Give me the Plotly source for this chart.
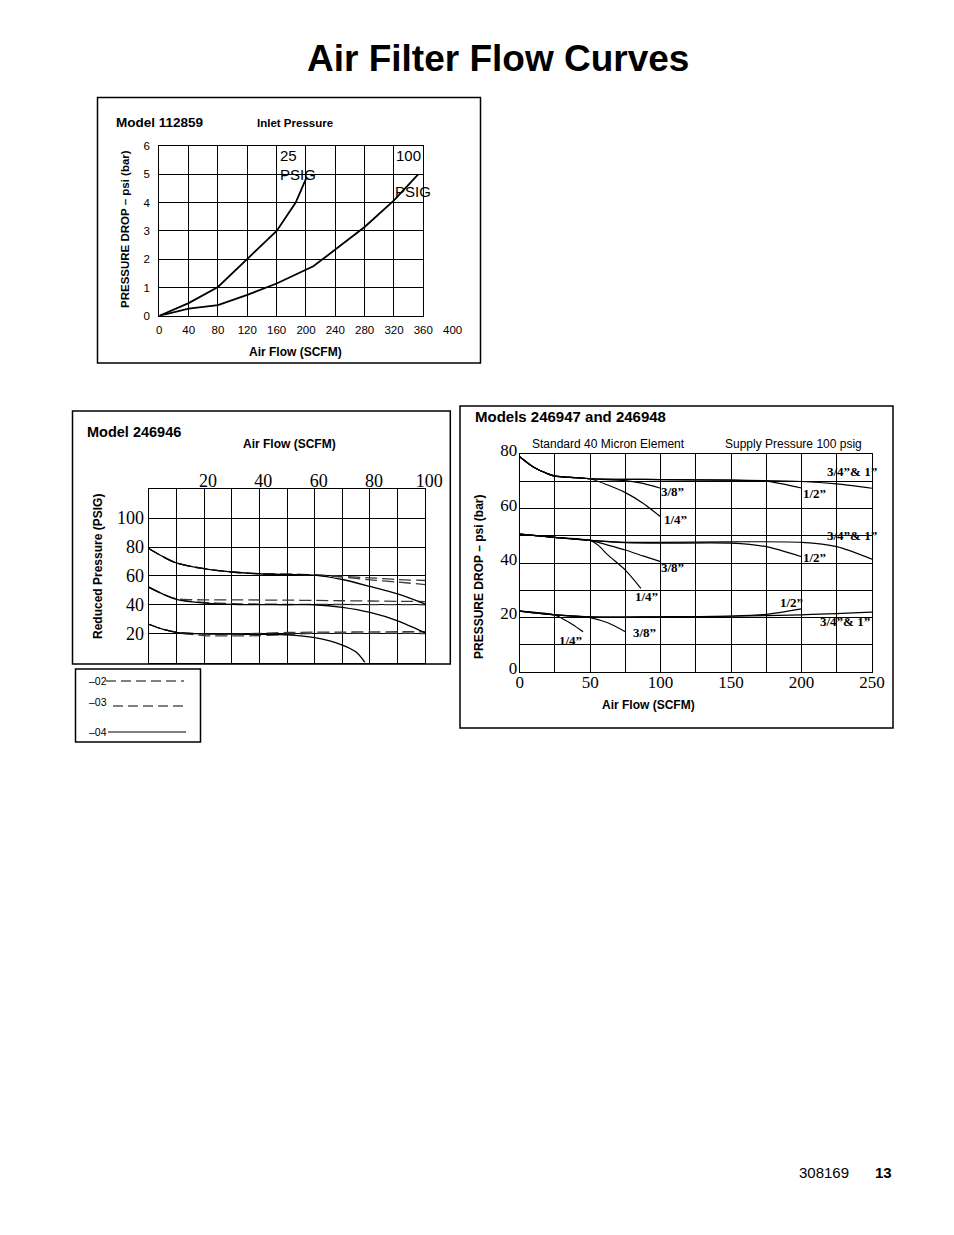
import plotly.graph_objects as go

W, H = 954, 1235
SANS = "Liberation Sans, Arial, Helvetica, sans-serif"
SERIF = "Liberation Serif, Times New Roman, serif"

# ---------------- Model 112859 ----------------
m1_flow_25 = [0, 40, 80, 120, 160, 186, 201]
m1_drop_25 = [0, 0.45, 1.02, 2.0, 3.0, 4.0, 4.9]
m1_flow_100 = [0, 40, 80, 120, 160, 210, 240, 280, 320, 353]
m1_drop_100 = [0, 0.25, 0.38, 0.74, 1.14, 1.75, 2.34, 3.14, 4.08, 5.0]
m1_x_labels = [0, 40, 80, 120, 160, 200, 240, 280, 320, 360, 400]
m1_y_labels = [0, 1, 2, 3, 4, 5, 6]

# ---------------- Model 246946 ----------------
m2_flow = [0, 5, 10, 20, 30, 40, 50, 60, 70, 80, 90, 100]
m2_high_02 = [79.0, 73.5, 69.0, 65.0, 62.7, 61.5, 61.2, 60.8, 59.6, 58.7, 57.5, 56.8]
m2_high_03 = [79.0, 73.5, 69.0, 65.0, 62.7, 61.5, 61.1, 60.6, 59.2, 57.3, 55.7, 54.0]
m2_high_04 = [79.0, 73.5, 69.0, 65.0, 62.7, 61.5, 61.0, 60.6, 57.5, 52.7, 47.5, 40.5]
m2_mid_02 = [52.2, 47.5, 44.2, 43.4, 43.4, 43.3, 43.2, 43.0, 42.8, 42.6, 42.4, 42.2]
m2_mid_03 = [52.2, 47.5, 43.8, 41.6, 40.8, 40.5, 40.3, 40.2, 40.2, 40.1, 40.1, 40.0]
m2_mid_04 = [52.2, 47.5, 43.8, 41.2, 40.3, 40.1, 40.0, 40.0, 38.2, 34.7, 28.9, 20.5]
m2_low_02 = [26.5, 23.1, 21.0, 19.8, 19.8, 20.2, 20.8, 21.0, 21.1, 21.2, 21.3, 21.3]
m2_low_03 = [26.5, 23.1, 20.8, 18.6, 18.4, 18.6, 19.5, 20.2, 20.4, 20.4, 20.3, 20.0]
m2_low_04_flow = [0, 5, 10, 20, 30, 40, 50, 60, 70, 75, 78.2]
m2_low_04 = [26.5, 23.1, 20.9, 19.8, 19.6, 19.5, 19.2, 17.2, 12.1, 7.2, 0.0]
m2_x_labels = [20, 40, 60, 80, 100]
m2_y_labels = [20, 40, 60, 80, 100]
m2_legend = ["\u201302", "\u201303", "\u201304"]

# ---------------- Models 246947 and 246948 ----------------
m3_top_14_x = [0, 10, 20, 25, 40, 50, 62.5, 75, 87.5, 100]
m3_top_14_y = [79.1, 75.2, 72.8, 72.0, 71.4, 71.0, 68.7, 65.9, 62.0, 57.0]
m3_top_38_x = [0, 10, 20, 25, 40, 50, 75, 87.5, 100]
m3_top_38_y = [79.1, 75.2, 72.8, 72.0, 71.4, 71.0, 70.3, 69.3, 67.5]
m3_top_12_x = [0, 10, 20, 25, 40, 50, 75, 100, 150, 175, 200]
m3_top_12_y = [79.1, 75.2, 72.8, 72.0, 71.4, 71.0, 70.8, 70.7, 70.5, 70.1, 67.6]
m3_top_34_x = [0, 10, 20, 25, 40, 50, 75, 100, 150, 200, 225, 250]
m3_top_34_y = [79.1, 75.2, 72.8, 72.0, 71.4, 71.0, 70.8, 70.7, 70.5, 70.0, 69.1, 67.5]

m3_mid_14_x = [0, 25, 50, 56, 62.5, 75, 86]
m3_mid_14_y = [50.6, 49.4, 48.3, 46.4, 43.0, 37.4, 30.7]
m3_mid_38_x = [0, 25, 50, 62.5, 75, 87.5, 100]
m3_mid_38_y = [50.6, 49.4, 48.3, 46.6, 44.8, 42.6, 40.5]
m3_mid_12_x = [0, 25, 50, 75, 100, 150, 175, 200]
m3_mid_12_y = [50.6, 49.4, 48.3, 47.5, 47.3, 47.3, 46.0, 42.3]
m3_mid_34_x = [0, 25, 50, 75, 100, 150, 200, 225, 250]
m3_mid_34_y = [50.6, 49.4, 48.3, 47.6, 47.6, 47.8, 47.6, 46.0, 41.4]

m3_bot_14_x = [0, 25, 30, 37.5, 45]
m3_bot_14_y = [22.3, 20.9, 19.6, 17.4, 14.7]
m3_bot_38_x = [0, 25, 45, 50, 62.5, 75]
m3_bot_38_y = [22.3, 20.9, 20.3, 19.9, 18.0, 14.7]
m3_bot_12_x = [0, 25, 50, 75, 100, 150, 175, 200]
m3_bot_12_y = [22.3, 20.9, 20.2, 20.1, 20.2, 20.5, 21.1, 23.1]
m3_bot_34_x = [0, 25, 50, 75, 100, 150, 200, 250]
m3_bot_34_y = [22.3, 20.9, 20.2, 20.1, 20.2, 20.4, 20.9, 21.9]
m3_x_labels = [0, 50, 100, 150, 200, 250]
m3_y_labels = [0, 20, 40, 60, 80]
m3_sizes = ["1/4\u201d", "3/8\u201d", "1/2\u201d", "3/4\u201d& 1\u201d"]


def PX(x):
    return x / W


def PY(y):
    return 1 - y / H


fig = go.Figure()

# ---- chart 1 traces ----
for fx, fy in [(m1_flow_25, m1_drop_25), (m1_flow_100, m1_drop_100)]:
    fig.add_trace(go.Scatter(x=fx, y=fy, mode="lines", xaxis="x", yaxis="y",
                             line=dict(color="black", width=1.8), hoverinfo="skip"))

# ---- chart 2 traces ----
dash_style = dict(color="#3a3a3a", width=1.3, dash="12px,5px", shape="spline", smoothing=0.8)
solid_style = dict(color="black", width=1.3, shape="spline", smoothing=0.8)
for series in [m2_high_02, m2_high_03, m2_mid_02, m2_mid_03, m2_low_02, m2_low_03]:
    fig.add_trace(go.Scatter(x=m2_flow, y=series, mode="lines", xaxis="x2", yaxis="y2",
                             line=dash_style, hoverinfo="skip"))
for fx, series in [(m2_flow, m2_high_04), (m2_flow, m2_mid_04), (m2_low_04_flow, m2_low_04)]:
    fig.add_trace(go.Scatter(x=fx, y=series, mode="lines", xaxis="x2", yaxis="y2",
                             line=solid_style, hoverinfo="skip"))

# ---- chart 3 traces ----
m3_curves = [
    (m3_top_14_x, m3_top_14_y), (m3_top_38_x, m3_top_38_y),
    (m3_top_12_x, m3_top_12_y), (m3_top_34_x, m3_top_34_y),
    (m3_mid_14_x, m3_mid_14_y), (m3_mid_38_x, m3_mid_38_y),
    (m3_mid_12_x, m3_mid_12_y), (m3_mid_34_x, m3_mid_34_y),
    (m3_bot_14_x, m3_bot_14_y), (m3_bot_38_x, m3_bot_38_y),
    (m3_bot_12_x, m3_bot_12_y), (m3_bot_34_x, m3_bot_34_y),
]
for cx, cy in m3_curves:
    fig.add_trace(go.Scatter(x=cx, y=cy, mode="lines", xaxis="x3", yaxis="y3",
                             line=dict(color="black", width=1.2, shape="spline", smoothing=0.7),
                             hoverinfo="skip"))


def axis(domain, rng, tickvals, ticktext, size, family, standoff, **kw):
    d = dict(domain=domain, range=rng, tickmode="array", tickvals=tickvals, ticktext=ticktext,
             tickfont=dict(size=size, family=family, color="black"),
             showgrid=True, gridcolor="black", gridwidth=1,
             showline=True, mirror=True, linecolor="black", linewidth=1.2,
             zeroline=False, ticks="", ticklabelstandoff=standoff, fixedrange=True,
             automargin=False)
    d.update(kw)
    return d


# chart 1 axes
M1_X0, M1_X1 = 159.3, 423.3
m1_in = [v for v in m1_x_labels if v <= 360]
xaxis1 = axis([PX(M1_X0), PX(M1_X1)], [0, 360], m1_in, [str(v) for v in m1_in], 11.5, SANS, 3, anchor="y")
yaxis1 = axis([PY(315.8), PY(146)], [0, 6], m1_y_labels, [str(v) for v in m1_y_labels], 11.5, SANS, 6, anchor="x")

# chart 2 axes
m2_xt = list(range(0, 101, 10))
m2_xtext = [str(v) if v in m2_x_labels else "" for v in m2_xt]
m2_yt = list(range(0, 121, 20))
m2_ytext = [str(v) if v in m2_y_labels else "" for v in m2_yt]
xaxis2 = axis([PX(148.7), PX(425.3)], [0, 100], m2_xt, m2_xtext, 18, SERIF, -6, anchor="y2", side="top",
              ticklabelshift=4)
yaxis2 = axis([PY(662.5), PY(489.3)], [0, 120], m2_yt, m2_ytext, 18, SERIF, 0, anchor="x2")

# chart 3 axes
m3_xt = list(range(0, 251, 25))
m3_xtext = [str(v) if v in m3_x_labels else "" for v in m3_xt]
m3_yt = list(range(0, 81, 10))
m3_ytext = [str(v) if v in m3_y_labels else "" for v in m3_yt]
xaxis3 = axis([PX(519.7), PX(872)], [0, 250], m3_xt, m3_xtext, 17, SERIF, -5, anchor="y3")
yaxis3 = axis([PY(671.7), PY(454.3)], [0, 80], m3_yt, m3_ytext, 17, SERIF, -2, anchor="x3",
              ticklabelshift=-4)


def txt(text, x, y, size, bold=False, family=SANS, xanchor="center", angle=0):
    return dict(text=f"<b>{text}</b>" if bold else text, x=PX(x), y=PY(y), xref="paper", yref="paper",
                xanchor=xanchor, yanchor="middle", showarrow=False, textangle=angle,
                font=dict(size=size, family=family, color="black"))


annotations = [
    txt("Air Filter Flow Curves", 497.5, 58, 37, bold=True),
    # chart 1
    txt("Model 112859", 114, 122, 13.5, bold=True, xanchor="left"),
    txt("Inlet Pressure", 295, 123, 11.5, bold=True),
    txt("PRESSURE DROP \u2013 psi (bar)", 125, 229, 11.5, bold=True, angle=-90),
    txt("Air Flow (SCFM)", 295, 352, 12, bold=True),
    txt("25", 278, 156, 15, xanchor="left"),
    txt("PSIG", 278, 174, 15, xanchor="left"),
    txt("100", 394, 156, 15, xanchor="left"),
    txt("PSIG", 393, 192, 15, xanchor="left"),
    # chart 2
    txt("Model 246946", 85, 432, 14.5, bold=True, xanchor="left"),
    txt("Air Flow (SCFM)", 289, 444, 12, bold=True),
    txt("Reduced Pressure (PSIG)", 98, 567, 12, bold=True, angle=-90),
    txt(m2_legend[0], 87, 681, 10.5, xanchor="left"),
    txt(m2_legend[1], 87, 702, 10.5, xanchor="left"),
    txt(m2_legend[2], 87, 732, 10.5, xanchor="left"),
    # chart 3
    txt("Models 246947 and 246948", 473, 417, 15, bold=True, xanchor="left"),
    txt("Standard 40 Micron Element", 530, 444, 12, xanchor="left"),
    txt("Supply Pressure 100 psig", 723, 444, 12, xanchor="left"),
    txt("PRESSURE DROP \u2013 psi (bar)", 479, 577, 12, bold=True, angle=-90),
    txt("Air Flow (SCFM)", 648, 705, 12, bold=True),
    # footer
    txt("308169", 797, 1172, 15, xanchor="left"),
    txt("13", 873, 1172, 15, bold=True, xanchor="left"),
]

# x label beyond the grid on chart 1 (same linear scale as the axis)
for v in m1_x_labels:
    if v > 360:
        px = M1_X0 + v / 360 * (M1_X1 - M1_X0)
        annotations.append(txt(str(v), px, 330, 11.5))

# chart 3 curve labels (x3/y3 data coords)
m3_label_pos = [
    (m3_sizes[1], 108.7, 66.3), (m3_sizes[0], 110.8, 56.1), (m3_sizes[2], 209.4, 65.7), (m3_sizes[3], 235.7, 73.8),
    (m3_sizes[0], 90.3, 27.5), (m3_sizes[1], 108.7, 38.2), (m3_sizes[2], 209.4, 42.2), (m3_sizes[3], 235.7, 50.2),
    (m3_sizes[0], 35.7, 11.6), (m3_sizes[1], 88.9, 14.3), (m3_sizes[2], 193.1, 25.6), (m3_sizes[3], 230.7, 18.3),
]
for t, lx, ly in m3_label_pos:
    annotations.append(dict(text=f"<b>{t}</b>", x=lx, y=ly, xref="x3", yref="y3", showarrow=False,
                            xanchor="center", yanchor="middle",
                            font=dict(size=13, family=SERIF, color="black")))


def rect(x0, y0, x1, y1, w=1.5):
    return dict(type="rect", xref="paper", yref="paper", x0=PX(x0), x1=PX(x1), y0=PY(y1), y1=PY(y0),
                line=dict(color="black", width=w), fillcolor="rgba(0,0,0,0)", layer="above")


def hline(x0, x1, y, dash=None, w=1):
    return dict(type="line", xref="paper", yref="paper", x0=PX(x0), x1=PX(x1), y0=PY(y), y1=PY(y),
                line=dict(color="black", width=w, dash=dash) if dash else dict(color="black", width=w))


shapes = [
    rect(97.5, 97.5, 480.5, 363),
    rect(72.5, 411, 450.3, 664),
    rect(75.5, 669, 200.5, 742),
    rect(460, 406, 893, 728),
    hline(106, 184, 681, dash="10px,5px"),
    hline(113, 184, 706, dash="10px,5px"),
    hline(108, 186, 732),
]

fig.update_layout(
    template="none",
    width=W, height=H, autosize=False,
    margin=dict(l=0, r=0, t=0, b=0, pad=0, autoexpand=False),
    paper_bgcolor="white", plot_bgcolor="white", showlegend=False,
    xaxis=xaxis1, yaxis=yaxis1, xaxis2=xaxis2, yaxis2=yaxis2, xaxis3=xaxis3, yaxis3=yaxis3,
    annotations=annotations, shapes=shapes,
)

fig.write_html("out.html")
